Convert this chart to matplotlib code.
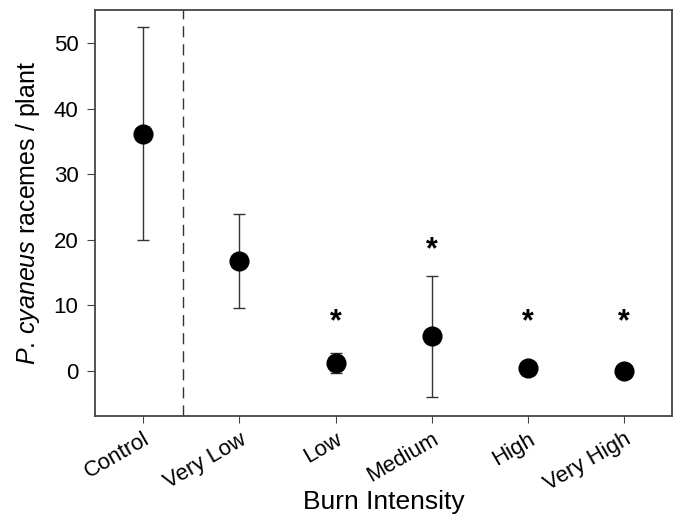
import matplotlib.pyplot as plt
import matplotlib.transforms as mtransforms
import numpy as np

# Data
categories = ["Control", "Very Low", "Low", "Medium", "High", "Very High"]
means = [36.2, 16.8, 1.2, 5.3, 0.5, 0.0]
upper = [52.5, 23.9, 2.75, 14.5, 0.5, 0.0]
lower = [20.0, 9.6, -0.25, -4.0, 0.5, 0.0]
star_y = [None, None, 8.3, 19.4, 8.3, 8.3]

plt.rcParams["font.family"] = ["Liberation Sans", "DejaVu Sans"]
plt.rcParams["mathtext.fontset"] = "custom"
plt.rcParams["mathtext.rm"] = "Liberation Sans"
plt.rcParams["mathtext.it"] = "Liberation Sans:italic"

x = np.arange(len(categories))
means = np.array(means)
yerr = [means - np.array(lower), np.array(upper) - means]

fig = plt.figure(figsize=(6.79, 5.17), dpi=100)
ax = fig.add_axes([0.140, 0.195, 0.850, 0.786])

ax.errorbar(x, means, yerr=yerr, fmt="o", color="black", markersize=13.5,
            ecolor="#333333", elinewidth=1.0, capsize=4, capthick=1.0, zorder=3)

# significance stars (asterisk glyph sits high in its box, so nudge down)
star_tf = mtransforms.offset_copy(ax.transData, fig=fig, x=0, y=-6, units="dots")
for xi, sy in zip(x, star_y):
    if sy is not None:
        ax.text(xi, sy, "*", ha="center", va="center", fontsize=22,
                fontweight="bold", transform=star_tf)

# separator between control and burn treatments
ax.axvline(0.41, color="#333333", linestyle=(0, (8, 5)), linewidth=1.0)

ax.set_xlim(-0.5, 5.5)
ax.set_ylim(-6.9, 55.1)
ax.set_yticks([0, 10, 20, 30, 40, 50])
ax.set_xticks(x)
ax.set_xticklabels(categories, rotation=30, ha="right", rotation_mode="anchor")
ax.tick_params(labelsize=16, direction="out", color="#444444")
ax.tick_params(axis="y", length=6, pad=6)
ax.tick_params(axis="x", length=5, pad=4)
ax.set_xlabel("Burn Intensity", fontsize=19, labelpad=-4)
ax.set_ylabel(r"$\mathit{P.\,cyaneus}$ racemes / plant", fontsize=18, labelpad=8)

for s in ax.spines.values():
    s.set_color("#444444")
    s.set_linewidth(1.3)

fig.savefig("out.png", dpi=100)
